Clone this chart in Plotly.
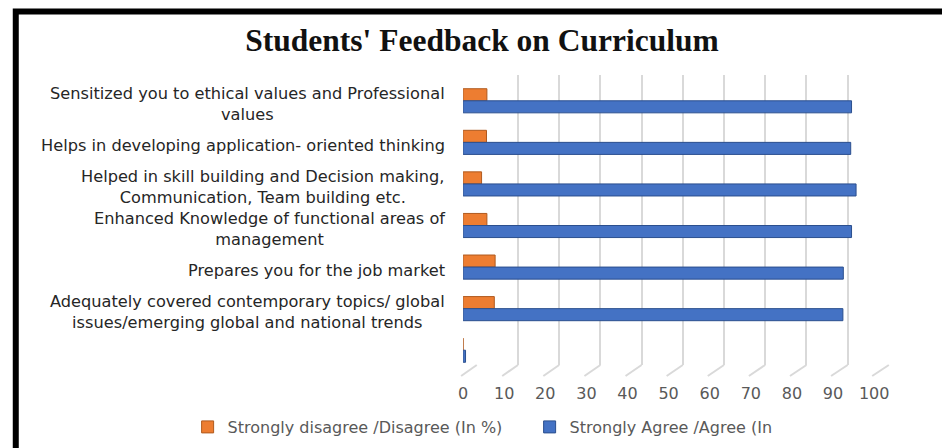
import plotly.graph_objects as go

categories = [
    "Sensitized you to ethical values and Professional<br>values",
    "Helps in developing application- oriented thinking",
    "Helped in skill building and Decision making,<br>Communication, Team building etc.",
    "Enhanced Knowledge of functional areas of<br>management",
    "Prepares you for the job market",
    "Adequately covered contemporary topics/ global<br>issues/emerging global and national trends",
    " ",
]
disagree = [5.8, 5.7, 4.5, 5.8, 7.8, 7.6, 0]
agree = [94.5, 94.3, 95.6, 94.5, 92.5, 92.4, 0.6]
tick_vals = [0, 10, 20, 30, 40, 50, 60, 70, 80, 90, 100]
series_names = ["Strongly disagree /Disagree (In %)", "Strongly Agree /Agree (In"]

W, H = 942, 448
FRONT = (468, 888)      # front axis pixel extent
BACK = (482, 903)       # back-wall pixel extent
FRONT_Y, BACK_Y = 376, 365

fig = go.Figure()

# invisible trace for the back-wall grid axis (first subplot -> drawn underneath)
fig.add_trace(go.Scatter(x=[None], y=[None], xaxis="x", yaxis="y",
                         showlegend=False, hoverinfo="skip"))

fig.add_trace(go.Bar(y=categories, x=disagree, orientation="h", name=series_names[0],
                     xaxis="x2", yaxis="y2",
                     marker=dict(color="#ED7D31", line=dict(color="#B05A1E", width=1))))
fig.add_trace(go.Bar(y=categories, x=agree, orientation="h", name=series_names[1],
                     xaxis="x2", yaxis="y2",
                     marker=dict(color="#4472C4", line=dict(color="#2B4F8E", width=1))))

annotations = []
for c in categories:
    annotations.append(dict(x=452 / W, xref="paper", y=c, yref="y2", text=c,
                            showarrow=False, xanchor="right", yanchor="middle",
                            align="center", yshift=-3,
                            font=dict(family="DejaVu Sans", size=16.2, color="#262626")))

# floor lines joining each back-wall gridline to the front axis
shapes = []
for t in tick_vals:
    xb = (BACK[0] + (BACK[1] - BACK[0]) * t / 100) / W
    xf = (FRONT[0] + (FRONT[1] - FRONT[0]) * t / 100 - 2) / W
    shapes.append(dict(type="line", xref="paper", yref="paper", x0=xb, x1=xf,
                       y0=1 - BACK_Y / H, y1=1 - FRONT_Y / H,
                       line=dict(color="#D9D9D9", width=2), layer="below"))
shapes.append(dict(type="rect", xref="paper", yref="paper", x0=11 / W, x1=1.05,
                   y0=-0.05, y1=1 - 11.5 / H, line=dict(color="black", width=6),
                   layer="above"))

fig.update_layout(
    width=W, height=H, autosize=False,
    margin=dict(l=0, r=0, t=0, b=0),
    paper_bgcolor="white", plot_bgcolor="rgba(0,0,0,0)",
    barmode="group", bargap=0.42, bargroupgap=0,
    title=dict(text="<b>Students' Feedback on Curriculum</b>", x=482 / W, xanchor="center",
               y=1 - 40 / H, yanchor="middle",
               font=dict(family="Liberation Serif", size=31.5, color="#111111")),
    xaxis=dict(domain=[BACK[0] / W, BACK[1] / W], range=[0, 100], tickvals=tick_vals,
               showgrid=True, gridcolor="#D9D9D9", gridwidth=2, zeroline=False,
               showticklabels=False, showline=False, ticks=""),
    yaxis=dict(domain=[1 - BACK_Y / H, 1 - 75 / H], range=[0, 1], visible=False),
    xaxis2=dict(domain=[FRONT[0] / W, FRONT[1] / W], range=[0, 100], tickvals=tick_vals,
                anchor="y2", showgrid=False, zeroline=False, showline=False, ticks="",
                ticklabelstandoff=11,
                tickfont=dict(family="DejaVu Sans", size=16, color="#595959")),
    yaxis2=dict(domain=[1 - 371 / H, 1 - 80 / H], range=[6.5, -0.5], type="category",
                anchor="x2", showticklabels=False, showgrid=False, zeroline=False,
                showline=False),
    legend=dict(orientation="h", x=536 / W, xanchor="center", y=1 - 427 / H,
                yanchor="middle", font=dict(family="DejaVu Sans", size=16, color="#595959"),
                itemwidth=30, traceorder="normal", entrywidth=297, entrywidthmode="pixels"),
    annotations=annotations,
    shapes=shapes,
)

fig.write_html("out.html")
